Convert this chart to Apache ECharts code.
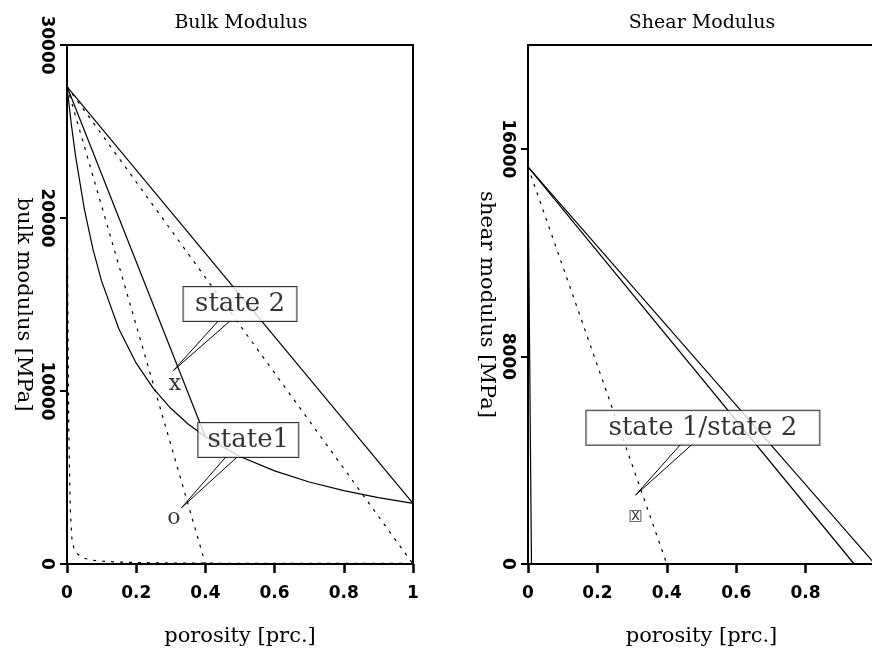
<!DOCTYPE html>
<html>
<head>
<meta charset="utf-8">
<script src="https://cdn.jsdelivr.net/npm/echarts@6/dist/echarts.min.js"></script>
<style>html,body{margin:0;padding:0;background:#fff}#c{width:872px;height:648px}</style>
</head>
<body>
<div id="c"></div>
<script>
// ---------- data ----------
const porosityTicks = [0, 0.2, 0.4, 0.6, 0.8, 1];
const bulkTicks = [0, 10000, 20000, 30000];
const shearTicks = [0, 8000, 16000];

// Bulk modulus panel
const bulkReussWetX = [0, 0.0125, 0.025, 0.05, 0.075, 0.1, 0.15, 0.2, 0.25, 0.3, 0.35, 0.4, 0.5, 0.6, 0.7, 0.8, 0.9, 1.0];
const bulkReussWetY = [27600, 25410, 23550, 20530, 18200, 16350, 13580, 11610, 10140, 9000, 8090, 7350, 6210, 5380, 4740, 4240, 3840, 3500];
const bulkReussDryX = [0, 0.002, 0.005, 0.008, 0.01, 0.014, 0.02, 0.03, 0.045, 0.07, 0.1, 0.15, 0.2, 0.3, 0.5, 0.7, 1.0];
const bulkReussDryY = [27600, 16000, 8000, 4500, 2900, 1500, 900, 580, 360, 230, 160, 110, 85, 55, 40, 35, 30];
const bulkVoigtWetX = [0, 1];
const bulkVoigtWetY = [27600, 3500];
const bulkModVoigtWetX = [0, 0.4];
const bulkModVoigtWetY = [27600, 7350];
const bulkVoigtDryX = [0, 1];
const bulkVoigtDryY = [27600, 0];
const bulkModVoigtDryX = [0, 0.4];
const bulkModVoigtDryY = [27600, 0];

// Shear modulus panel
const shearLineAX = [0, 0.94];
const shearLineAY = [15300, 0];
const shearLineBX = [0, 1.0];
const shearLineBY = [15300, 0];
const shearReussX = [0, 0.01];
const shearReussY = [15300, 0];
const shearModVoigtDryX = [0, 0.4];
const shearModVoigtDryY = [15300, 0];

// state markers
const bulkState2 = [0.312, 10400];
const bulkState1 = [0.309, 2660];
const shearState = [0.31, 1850];

// callouts: box centre, two callout starts, tip
const calloutState2 = {text: 'state 2', box: [0.5, 15030], leg1: [0.437, 14046], tip: [0.307, 11170], leg2: [0.471, 14046]};
const calloutState1 = {text: 'state1', box: [0.524, 7168], leg1: [0.4615, 6243], tip: [0.331, 3254], leg2: [0.495, 6243]};
const calloutShear = {text: 'state 1/state 2', box: [0.504, 5250], leg1: [0.442, 4642], tip: [0.310, 2654], leg2: [0.4755, 4642]};

// ---------- chart ----------
const zip = (xs, ys) => xs.map((x, i) => [x, ys[i]]);
const serif = 'DejaVu Serif';
const tickFont = {fontFamily: 'DejaVu Sans', fontWeight: 'bold', fontSize: 17, color: '#000'};

function lineSeries(xi, xs, ys, dashed) {
  return {
    type: 'line', xAxisIndex: xi, yAxisIndex: xi, data: zip(xs, ys),
    symbol: 'none', silent: true, z: 2, clip: false,
    lineStyle: {color: '#000', width: 1.2, type: dashed ? [3, 6] : 'solid'}
  };
}
function glyph(xi, pt, text, size, fam) {
  return {
    type: 'scatter', xAxisIndex: xi, yAxisIndex: xi, data: [pt], symbolSize: 1, z: 3,
    itemStyle: {color: 'rgba(0,0,0,0)'}, silent: true,
    label: {show: true, position: 'inside', formatter: text, fontFamily: fam || serif, fontSize: size,
      color: '#000', textBorderWidth: 0}
  };
}
function callout(xi, c, w) {
  return [
    {type: 'line', xAxisIndex: xi, yAxisIndex: xi, data: [c.leg1, c.tip, c.leg2], symbol: 'none', z: 4, silent: true,
     lineStyle: {color: '#000', width: 1}},
    {type: 'scatter', xAxisIndex: xi, yAxisIndex: xi, data: [c.box], symbolSize: 1, z: 5, silent: true,
     itemStyle: {color: 'rgba(0,0,0,0)'},
     label: {show: true, position: 'inside', formatter: c.text, fontFamily: serif, fontSize: 26, color: '#000',
       textBorderWidth: 0, backgroundColor: '#fff', borderColor: '#000', borderWidth: 1, padding: [4, 5], lineHeight: 26,
       width: w, align: 'center'}}
  ];
}

function xAxis(gi) {
  return {
    type: 'value', gridIndex: gi, min: 0, max: 1, interval: 0.2,
    name: 'porosity [prc.]', nameLocation: 'middle', nameGap: 62,
    nameTextStyle: {fontFamily: serif, fontSize: 21, color: '#000'},
    axisLine: {show: true, onZero: false, lineStyle: {color: '#000', width: 2}},
    axisTick: {show: true, inside: false, length: 9, lineStyle: {color: '#000', width: 2.5}},
    axisLabel: Object.assign({margin: 21, showMaxLabel: gi === 0, customValues: porosityTicks,
      formatter: v => String(v)}, tickFont),
    splitLine: {show: false}
  };
}
function yAxis(gi, max, ticks, name, gap) {
  return {
    type: 'value', gridIndex: gi, min: 0, max: max,
    name: name, nameLocation: 'middle', nameGap: gap, nameRotate: -90,
    nameTextStyle: {fontFamily: serif, fontSize: 21, color: '#000'},
    axisLine: {show: true, onZero: false, lineStyle: {color: '#000', width: 2}},
    axisTick: {show: true, inside: false, length: 7, lineStyle: {color: '#000', width: 2}, customValues: ticks},
    axisLabel: Object.assign({rotate: -90, margin: 12, customValues: ticks, formatter: v => String(v)}, tickFont),
    splitLine: {show: false}
  };
}

const chart = echarts.init(document.getElementById('c'), null, {renderer: 'canvas'});
chart.setOption({
  animation: false,
  backgroundColor: '#fff',
  title: [
    {text: 'Bulk Modulus', left: 236, top: 9, textAlign: 'center', textStyle: {fontFamily: serif, fontSize: 19, fontWeight: 'normal', color: '#000'}},
    {text: 'Shear Modulus', left: 697, top: 9, textAlign: 'center', textStyle: {fontFamily: serif, fontSize: 19, fontWeight: 'normal', color: '#000'}}
  ],
  grid: [
    {left: 67, top: 45, width: 346, height: 519, outerBoundsMode: 'none', containLabel: false,
     show: true, borderColor: '#000', borderWidth: 2, backgroundColor: 'transparent'},
    {left: 528, top: 45, width: 347, height: 519, outerBoundsMode: 'none', containLabel: false,
     show: true, borderColor: '#000', borderWidth: 2, backgroundColor: 'transparent'}
  ],
  xAxis: [xAxis(0), xAxis(1)],
  yAxis: [
    yAxis(0, 30000, bulkTicks, 'bulk modulus [MPa]', 33),
    yAxis(1, 20000, shearTicks, 'shear modulus [MPa]', 31)
  ],
  series: [
    lineSeries(0, bulkVoigtWetX, bulkVoigtWetY, false),
    lineSeries(0, bulkModVoigtWetX, bulkModVoigtWetY, false),
    lineSeries(0, bulkReussWetX, bulkReussWetY, false),
    lineSeries(0, bulkVoigtDryX, bulkVoigtDryY, true),
    lineSeries(0, bulkModVoigtDryX, bulkModVoigtDryY, true),
    lineSeries(0, bulkReussDryX, bulkReussDryY, true),
    lineSeries(1, shearLineAX, shearLineAY, false),
    lineSeries(1, shearLineBX, shearLineBY, false),
    lineSeries(1, shearReussX, shearReussY, false),
    lineSeries(1, shearModVoigtDryX, shearModVoigtDryY, true),
    glyph(0, bulkState2, 'x', 22),
    glyph(0, bulkState1, 'o', 22),
    glyph(1, shearState, 'x', 15, 'DejaVu Sans Mono'),
    glyph(1, shearState, '□', 15, 'DejaVu Sans'),
    ...callout(0, calloutState2, 103),
    ...callout(0, calloutState1, 90),
    ...callout(1, calloutShear, 223)
  ]
});
</script>
</body>
</html>
